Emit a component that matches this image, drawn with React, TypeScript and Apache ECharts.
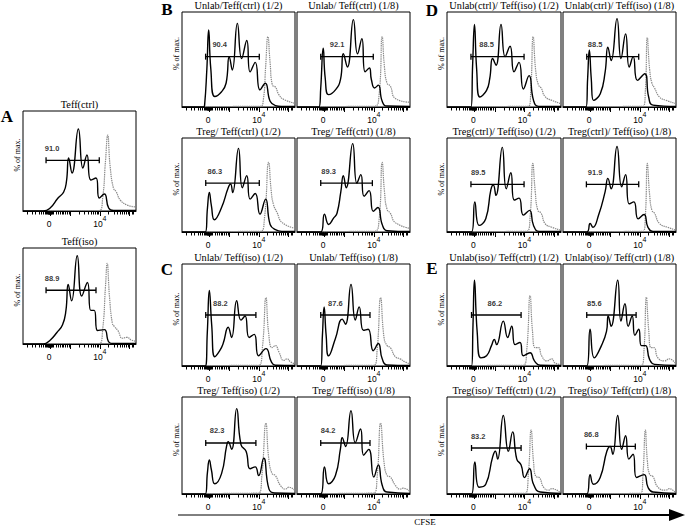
import React, { useEffect, useRef } from "react";
import * as echarts from "echarts";

// ---------- axis (CFSE, biexponential display units 0..100) ----------
const majorTicks = [24, 42, 68, 94];
const minorTicks = [4, 8, 11, 14, 16, 18, 19.5, 20.5, 21.3, 22, 22.4, 22.8, 23.2, 23.6, 24.4, 24.8, 25.2, 26, 27, 29, 31, 33, 34.5, 36, 37.5, 39, 40.5, 49.8, 54.4, 57.7, 60.2, 62.2, 64, 65.5, 66.8, 75.8, 80.4, 83.7, 86.2, 88.2, 90, 91.5, 92.8, 96.5, 98];
const tickLabelValues = [24, 68];
const tickLabelTexts = ["0", "10^4"];

// ---------- histogram curves: [CFSE position, % of max] ----------
const A1_sample = [[0, 0], [18, 0], [24, 3], [31, 13], [36, 19], [38.5, 30], [40.4, 53], [43.4, 38], [49, 82], [53, 43], [56.6, 56], [60, 31], [64.6, 33], [67.5, 13], [72, 17], [75.8, 3], [80, 0.5], [100, 0.5]];
const A1_control = [[20, 0.5], [67.5, 0.5], [70.5, 13], [73, 50], [75, 76], [77, 46], [80, 23], [82.6, 19], [86, 11], [92, 6], [100, 4]];
const A2_sample = [[0, 0], [18, 0], [24, 4], [30, 12], [35, 20], [38, 35], [40, 62], [43, 45], [48, 92], [52, 50], [57, 64], [60, 35], [63, 35], [66, 14], [72, 15], [76, 2], [80, 0.5], [100, 0.5]];
const A2_control = [[20, 0.5], [67.5, 0.5], [70.5, 15], [73, 60], [74.5, 84], [76.5, 50], [79, 22], [81, 18], [84, 14], [88, 6], [92, 7], [96, 4], [100, 3]];

const B1_sample = [[0, 0], [19, 0], [20, 2], [22, 40], [23.6, 81], [25.5, 40], [29, 11], [35, 16], [39, 25], [41.8, 53], [44.5, 39], [49, 88], [52.8, 51], [57.3, 70], [60.3, 37], [64.8, 47], [69, 18], [73.7, 25], [78, 6], [82.7, 1.4], [88, 0.5], [100, 0.5]];
const B1_control = [[20, 0.5], [69, 0.7], [72, 8], [74, 42], [76, 74], [78, 46], [80, 23], [82.7, 21], [85.7, 13], [90, 8], [100, 4]];
const B2_sample = [[0, 0], [19.4, 0], [21, 20], [23.2, 62], [25, 30], [28, 13], [34, 18], [38.5, 29], [41, 56], [44.6, 42], [49.9, 92], [53.6, 56], [57.4, 72], [60.3, 37], [64, 41], [65.8, 29], [68.7, 20], [72, 23], [75.4, 6], [79.7, 1], [100, 0.5]];
const B2_control = [[20, 0.5], [68, 0.7], [72.5, 11], [75.4, 74], [77.4, 42], [79.7, 25], [82.6, 22], [87, 9], [100, 5]];
const B3_sample = [[0, 0], [20.6, 0], [22.5, 25], [24.2, 42], [26, 28], [28.7, 13], [35, 26], [40.9, 47], [43, 51], [44.8, 42], [50, 89], [53.4, 47], [57.3, 60], [60.3, 35], [64.8, 41], [69, 19], [74, 35], [78, 8], [82.7, 2.5], [88.7, 0.7], [100, 0.5]];
const B3_control = [[20, 0.5], [69.5, 0.7], [73, 15], [76.7, 74], [79, 43], [81, 29], [84, 21], [88.7, 10], [100, 4]];
const B4_sample = [[0, 0], [21, 0], [24.3, 19], [28, 8], [32.5, 15], [35.4, 20], [38.8, 43], [41, 60], [43.5, 47], [49.3, 94], [53, 52], [56.5, 61], [59.4, 38], [63.8, 44], [67.5, 22], [71.6, 26], [75.4, 8], [79.7, 1.4], [100, 0.5]];
const B4_control = [[20, 0.5], [68, 0.7], [72.5, 11], [75.4, 74], [77.4, 43], [79.7, 24], [82.6, 20], [87, 10], [100, 4]];

const C1_sample = [[0, 0], [20.6, 0], [22.4, 33], [24.2, 74], [26.3, 40], [29, 9], [33.4, 15], [36.4, 22], [40.9, 38], [43.9, 28], [48.4, 64], [52.2, 45], [55.8, 49], [59.4, 28], [63.9, 31], [67.8, 10], [74.3, 17], [79.1, 4], [82.7, 0.7], [100, 0.5]];
const C1_control = [[20, 0.5], [67.8, 0.6], [71.3, 20], [74.3, 67], [76.7, 32], [79.7, 18], [82.7, 20], [85.7, 14], [90, 5.5], [93, 7], [96, 4], [100, 2]];
const C2_sample = [[0, 0], [21, 0], [22.5, 30], [24, 58], [25.8, 30], [28, 10], [34, 27], [40, 46], [42.9, 41], [47.8, 80], [51.6, 45], [55, 58], [58.8, 35], [63, 36], [67.5, 15], [72, 22], [75.4, 7], [79.7, 1], [100, 0.5]];
const C2_control = [[20, 0.5], [68, 0.6], [71, 17], [74, 67], [77, 28], [79.7, 20], [82.6, 18], [87, 9], [91.3, 7], [95.7, 4], [100, 2]];
const C3_sample = [[0, 0], [20.6, 0], [22.5, 22], [24.2, 35], [26, 25], [29, 10.5], [35, 21], [39.4, 49], [40.9, 54], [43.9, 46], [48.4, 88], [52.2, 51], [56.7, 44], [60.3, 26], [64.8, 28], [67.8, 19], [72.3, 37], [77, 5], [82, 1], [100, 0.5]];
const C3_control = [[20, 0.5], [67.8, 1], [70.7, 19], [74.3, 73], [76.7, 37], [79.7, 21], [82.7, 19], [87, 9], [91.6, 5], [94.6, 7], [100, 3.5]];
const C4_sample = [[0, 0], [21, 0], [24.3, 28], [28, 10.5], [34, 19], [38.5, 47], [40, 58], [43, 49], [47.8, 86], [51.6, 53], [56.2, 67], [59, 40], [63.5, 46], [68, 17.5], [72, 30], [75.4, 9], [79.7, 2], [100, 0.5]];
const C4_control = [[20, 0.5], [68, 1], [71, 19], [74, 73], [77, 33], [79.7, 19], [82.6, 17.5], [87, 9], [91.3, 5], [94, 6], [100, 2.5]];

const D1_sample = [[0, 0], [21, 0], [22.5, 45], [24.1, 87], [26, 40], [28.8, 10.5], [34.7, 17.5], [37.5, 30], [40, 51], [43, 44], [47.4, 87], [51, 53], [55.3, 64], [58.8, 37], [63.2, 47], [67, 19], [72, 33], [75.9, 7], [80.3, 0.7], [100, 0.5]];
const D1_control = [[20, 0.5], [71.5, 0.7], [73.5, 17.5], [75.6, 74], [77.9, 37], [80.3, 23], [82.6, 20], [86, 11], [92, 7], [100, 3.5]];
const D2_sample = [[0, 0], [20.4, 0], [21.8, 30], [23.3, 60], [25, 30], [27, 7], [33, 14], [37.3, 37], [39.7, 63], [42.6, 49], [47.8, 93], [51.3, 51], [55.4, 77], [58.6, 42], [62.1, 53], [65.9, 28], [72.3, 35], [75.8, 10.5], [79.6, 2], [100, 0.5]];
const D2_control = [[20, 0.5], [70.8, 0.7], [72.9, 17.5], [74.6, 73], [76.7, 39], [78.7, 25], [81, 20], [85.4, 10.5], [91.3, 7], [100, 3.5]];
const D3_sample = [[0, 0], [21.5, 0], [24.4, 32], [28.2, 7], [34, 14], [38.5, 45], [40.6, 50], [42.9, 39], [48.5, 90], [52, 46], [56, 63], [59, 34], [63.2, 36], [67, 18], [72.4, 23], [75.9, 7], [80.9, 0.7], [100, 0.5]];
const D3_control = [[20, 0.5], [70, 0.7], [73, 18], [75.3, 73], [77.4, 43], [79.7, 23], [82.6, 20], [86, 9], [92, 5], [100, 2]];
const D4_sample = [[0, 0], [21, 0], [24, 9], [26.5, 5], [31.5, 18], [37.3, 43], [39.7, 57], [42.6, 46], [47.8, 91], [51.9, 48], [55.4, 61], [58.6, 30], [62.7, 32], [66.5, 14], [71.7, 18.6], [75.2, 5], [79.6, 0.7], [100, 0.5]];
const D4_control = [[20, 0.5], [70.8, 0.7], [72.9, 17], [74.6, 73], [76.7, 39], [78.7, 23], [81, 20], [85.4, 9], [92.7, 5], [100, 2]];

const E1_sample = [[0, 0], [21.5, 0], [22.8, 40], [24.1, 84], [26.5, 33], [29.7, 8], [34.7, 10], [39, 20], [41.5, 26], [43.5, 21], [49.4, 44], [53.2, 28], [56.8, 39], [59.7, 21], [64, 23], [67, 10], [72.9, 13], [76.7, 5], [81.8, 0.7], [100, 0.5]];
const E1_control = [[20, 0.5], [67, 0.7], [70, 16], [72.9, 69], [75, 34], [77.4, 18], [80.3, 18], [83, 10], [87.6, 5], [92, 7], [94.7, 3], [100, 1.6]];
const E2_sample = [[0, 0], [21, 0], [24, 36], [27.7, 8], [34, 20], [38.5, 34], [40, 49], [42.6, 39], [48.4, 84], [51.3, 44], [54.8, 61], [57.7, 39], [61.2, 49], [63.6, 30], [67, 36], [69.4, 20], [73, 20], [76.6, 6.5], [81, 1.6], [100, 0.5]];
const E2_control = [[20, 0.5], [69.4, 0.7], [71.7, 16], [73.8, 67.5], [75.8, 36], [78, 18], [80.5, 18], [84, 8], [89.8, 5], [94, 7], [100, 1.6]];
const E3_sample = [[0, 0], [21.5, 0], [24.4, 33], [28.2, 7], [34, 10], [40, 38], [42.4, 44], [44.4, 36], [49.4, 81], [53.8, 44], [57.6, 64], [61.2, 36], [65, 30], [68, 17], [72.4, 26], [75.9, 10], [81.8, 2], [100, 0.5]];
const E3_control = [[20, 0.5], [68.5, 0.6], [71.5, 23], [73.8, 66], [75.9, 33], [78, 18], [80.9, 17], [84.7, 7], [89, 4], [92, 5.5], [100, 0.6]];
const E4_sample = [[0, 0], [21, 0], [24, 20], [27, 10], [32.9, 17], [38.8, 44], [41.7, 49], [44, 41], [48.4, 81], [51.9, 46], [55.4, 60], [58.3, 36], [62, 41], [65, 17], [71.7, 20], [75.2, 7], [79.6, 2], [100, 0.5]];
const E4_control = [[20, 0.5], [68.8, 0.6], [70.8, 20], [72.9, 66], [74.6, 35], [76.7, 20], [79.6, 18], [84, 7], [91, 4], [94, 5.5], [100, 0.6]];

// ---------- panel titles and gates ----------
const panelTitles = [
  "Teff(ctrl)", "Teff(iso)",
  "Unlab/Teff(ctrl) (1/2)", "Unlab/ Teff(ctrl) (1/8)", "Treg/ Teff(ctrl) (1/2)", "Treg/ Teff(ctrl) (1/8)",
  "Unlab/ Teff(iso) (1/2)", "Unlab/ Teff(iso) (1/8)", "Treg/ Teff(iso) (1/2)", "Treg/ Teff(iso) (1/8)",
  "Unlab(ctrl)/ Teff(iso) (1/2)", "Unlab(ctrl)/ Teff(iso) (1/8)", "Treg(ctrl)/ Teff(iso) (1/2)", "Treg(ctrl)/ Teff(iso) (1/8)",
  "Unlab(iso)/ Teff(ctrl) (1/2)", "Unlab(iso)/ Teff(ctrl) (1/8)", "Treg(iso)/ Teff(ctrl) (1/2)", "Treg(iso)/ Teff(ctrl) (1/8)",
];
const sampleCurves = [A1_sample, A2_sample, B1_sample, B2_sample, B3_sample, B4_sample, C1_sample, C2_sample, C3_sample, C4_sample, D1_sample, D2_sample, D3_sample, D4_sample, E1_sample, E2_sample, E3_sample, E4_sample];
const controlCurves = [A1_control, A2_control, B1_control, B2_control, B3_control, B4_control, C1_control, C2_control, C3_control, C4_control, D1_control, D2_control, D3_control, D4_control, E1_control, E2_control, E3_control, E4_control];
const gatePercent = [91.0, 88.9, 90.4, 92.1, 86.3, 89.3, 88.2, 87.6, 82.3, 84.2, 88.5, 88.5, 89.5, 91.9, 86.2, 85.6, 83.2, 86.8];
const gateStart = [20.4, 20.4, 20.9, 21, 21, 21, 21, 21, 21, 21, 21, 21, 21, 20.7, 21.5, 21, 21.5, 20.7];
const gateEnd = [67.5, 64.6, 68.4, 67.5, 68.4, 66.7, 65.4, 64.6, 65.4, 64.6, 67.6, 67, 67.6, 67, 65, 64.7, 65, 64];
const gateLevel = [50.7, 56, 53, 53, 52, 52, 50, 50, 52.6, 52.6, 53, 53, 50.7, 50.7, 50, 50, 47.4, 49];
const gateLabelX = [25.7, 25.7, 33.4, 35.4, 29, 28, 34, 34, 31, 27.5, 34.7, 28.4, 27.4, 28.4, 42, 27.7, 27.4, 25];

// ---------- layout (pixels) ----------
const boxes = [
  [23, 111, 113, 100], [23, 248, 113, 96],
  [182, 12, 113, 95], [297, 12, 113, 95], [182, 138, 113, 94], [297, 138, 113, 94],
  [182, 264, 113, 102], [297, 264, 113, 102], [182, 397, 113, 97], [297, 397, 113, 97],
  [447, 12, 114, 95], [563, 12, 113, 95], [447, 138, 114, 94], [563, 138, 113, 94],
  [447, 264, 114, 102], [563, 264, 113, 102], [447, 397, 114, 97], [563, 397, 113, 97],
];
const showYName = [true, true, true, false, true, false, true, false, true, false, true, false, true, false, true, false, true, false];
const letters = [
  { t: "A", x: 7, y: 116 }, { t: "B", x: 167, y: 9 }, { t: "C", x: 167, y: 269 },
  { t: "D", x: 432, y: 10 }, { t: "E", x: 432, y: 268 },
];

const SERIF = '"Liberation Serif", "Times New Roman", serif';
const SANS = '"Liberation Sans", Arial, sans-serif';

function txt(text: string, x: number, y: number, font: string, extra: any = {}) {
  return {
    type: "text", x, y, silent: true, ...extra,
    style: { text, font, fill: "#000", align: "center", verticalAlign: "middle", textAlign: "center", textVerticalAlign: "middle" },
  };
}

export default function App() {
  const ref = useRef<HTMLDivElement>(null);
  useEffect(() => {
    const chart = echarts.init(ref.current!, null, { renderer: "svg" });
    const grid: any[] = [];
    const xAxis: any[] = [];
    const yAxis: any[] = [];
    const series: any[] = [];
    const graphic: any[] = [];

    boxes.forEach(([l, t, w, h], i) => {
      grid.push({ left: l, top: t, width: w, height: h, show: true, borderColor: "#000", borderWidth: 1, backgroundColor: "transparent" });
      xAxis.push({
        type: "value", gridIndex: i, min: 0, max: 100, position: "bottom",
        axisLine: { show: true, onZero: false, lineStyle: { color: "#000", width: 1 } },
        axisTick: { show: true, customValues: majorTicks, length: 5, lineStyle: { color: "#000", width: 1 } },
        axisLabel: {
          show: true, customValues: tickLabelValues, margin: 4, color: "#000",
          formatter: (v: number) => {
            const s = tickLabelTexts[tickLabelValues.indexOf(v)] || "";
            if (s.indexOf("^") >= 0) {
              const [b, e] = s.split("^");
              return `{n|${b}}{s|${e}}`;
            }
            return `{n|${s}}{s| }`;
          },
          rich: {
            n: { fontSize: 8.5, fontFamily: SANS, color: "#000", verticalAlign: "bottom" },
            s: { fontSize: 7, fontFamily: SANS, color: "#000", verticalAlign: "bottom", padding: [0, 0, 6, 0] },
          },
        },
        splitLine: { show: false },
      });
      xAxis.push({
        type: "value", gridIndex: i, min: 0, max: 100, position: "bottom",
        axisLine: { show: false },
        axisTick: { show: true, customValues: minorTicks, length: 3.5, lineStyle: { color: "#000", width: 1 } },
        axisLabel: { show: false },
        splitLine: { show: false },
      });
      yAxis.push({ type: "value", gridIndex: i, min: 0, max: 100, show: false, splitLine: { show: false } });

      series.push({
        type: "line", xAxisIndex: 2 * i, yAxisIndex: i, data: controlCurves[i], smooth: 0.5, symbol: "none", silent: true,
        lineStyle: { color: "#8a8a8a", width: 1.2, type: [1.4, 0.8] },
      });
      series.push({
        type: "line", xAxisIndex: 2 * i, yAxisIndex: i, data: sampleCurves[i], smooth: 0.5, symbol: "none", silent: true,
        lineStyle: { color: "#000", width: 1.4 },
      });
      series.push({
        type: "line", xAxisIndex: 2 * i, yAxisIndex: i, silent: true,
        data: [[gateStart[i], gateLevel[i]], [gateEnd[i], gateLevel[i]]],
        symbol: "rect", symbolSize: [1.3, 6], showSymbol: true,
        itemStyle: { color: "#000" }, lineStyle: { color: "#000", width: 1.3 },
      });
      series.push({
        type: "scatter", xAxisIndex: 2 * i, yAxisIndex: i, silent: true,
        data: [[gateLabelX[i], gateLevel[i]]], symbolSize: 0,
        itemStyle: { color: "#000" },
        label: {
          show: true, position: "top", distance: 8,
          formatter: () => gatePercent[i].toFixed(1),
          fontSize: 7.5, fontWeight: "bold", fontFamily: SANS, color: "#000", textBorderWidth: 0,
        },
      });

      graphic.push(txt(panelTitles[i], l + w / 2, t - 7, `10.3px ${SERIF}`));
      if (showYName[i]) {
        graphic.push(txt("% of max.", l - 6, t + h / 2 - 6, `8px ${SERIF}`, { rotation: Math.PI / 2 }));
      }
    });

    letters.forEach((L) => graphic.push(txt(L.t, L.x, L.y, `bold 17px ${SERIF}`)));

    graphic.push({ type: "line", silent: true, shape: { x1: 178, y1: 515, x2: 430, y2: 515 }, style: { stroke: "#000", lineWidth: 1 } });
    graphic.push({ type: "line", silent: true, shape: { x1: 430, y1: 515, x2: 672, y2: 515 }, style: { stroke: "#000", lineWidth: 2.2 } });
    graphic.push({ type: "polygon", silent: true, shape: { points: [[669, 509], [685, 515], [669, 521]] }, style: { fill: "#000" } });
    graphic.push(txt("CFSE", 425, 522, `9px ${SERIF}`));

    chart.setOption({
      animation: false,
      backgroundColor: "#fff",
      grid, xAxis, yAxis, series,
      graphic: { elements: graphic },
    });
    return () => chart.dispose();
  }, []);

  return <div ref={ref} style={{ position: "fixed", left: 0, top: 0, width: 685, height: 527, background: "#fff" }} />;
}
